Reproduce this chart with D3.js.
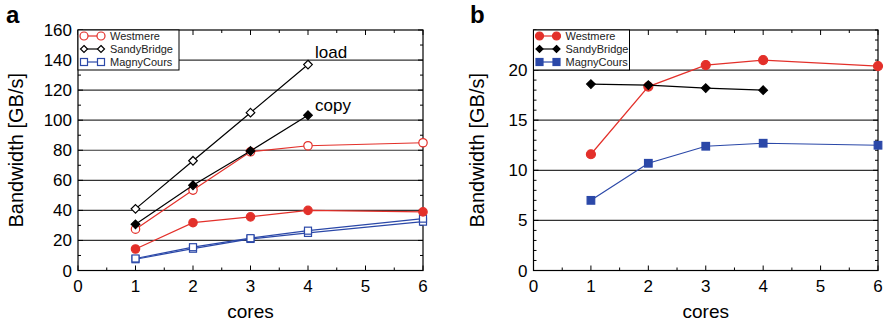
<!DOCTYPE html>
<html>
<head>
<meta charset="utf-8">
<script src="https://cdn.jsdelivr.net/npm/d3@7"></script>
<style>
  body { margin: 0; background: #fff; }
  svg { font-family: "Liberation Sans", Arial, sans-serif; }
</style>
</head>
<body>
<div id="container"></div>
<script>
var cores = [1, 2, 3, 4, 6];
var coresSandy = [1, 2, 3, 4];

// panel a: load (open) and copy (filled)
var westLoad = [27.5, 53.5, 79, 83, 85];
var westCopy = [14.3, 31.8, 35.7, 40, 39];
var sandyLoad = [41, 73, 105, 137];
var sandyCopy = [30.7, 56.7, 79.5, 103.3];
var magnyLoad = [8, 15.5, 21.5, 26.5, 34.5];
var magnyCopy = [7.5, 14.5, 21, 25, 32.5];

// panel b
var westB = [11.6, 18.35, 20.5, 21.0, 20.4];
var sandyB = [18.6, 18.5, 18.2, 18.0];
var magnyB = [7.0, 10.7, 12.4, 12.7, 12.5];

var xTicks = [0, 1, 2, 3, 4, 5, 6];
var yTicksA = [0, 20, 40, 60, 80, 100, 120, 140, 160];
var yTicksB = [0, 5, 10, 15, 20];
var legendNames = ["Westmere", "SandyBridge", "MagnyCours"];

var red = "#e3302a", black = "#000", blue = "#2b48a8";

var svg = d3.select("#container").append("svg")
    .attr("width", 886).attr("height", 326);

function panel(opt) {
    var g = svg.append("g");
    var x = d3.scaleLinear().domain([0, 6]).range([opt.left, opt.right]);
    var y = d3.scaleLinear().domain([0, opt.ymax]).range([opt.bottom, opt.top]);

    // grid
    g.selectAll("line.grid").data(opt.grid).enter().append("line")
        .attr("x1", opt.left).attr("x2", opt.right)
        .attr("y1", d => y(d)).attr("y2", d => y(d))
        .attr("stroke", "#333").attr("stroke-width", 1.2);

    // minor/major ticks inside on all four sides
    d3.range(0, 6.01, 0.5).forEach(v => {
        var len = (v % 1 === 0) ? 5 : 3;
        g.append("line").attr("x1", x(v)).attr("x2", x(v))
            .attr("y1", opt.bottom).attr("y2", opt.bottom - len).attr("stroke", "#000");
        g.append("line").attr("x1", x(v)).attr("x2", x(v))
            .attr("y1", opt.top).attr("y2", opt.top + len).attr("stroke", "#000");
    });
    d3.range(0, opt.ymax + 0.01, opt.minor).forEach(v => {
        var len = (Math.abs(v % opt.major) < 1e-6) ? 5 : 3;
        g.append("line").attr("x1", opt.left).attr("x2", opt.left + len)
            .attr("y1", y(v)).attr("y2", y(v)).attr("stroke", "#000");
        g.append("line").attr("x1", opt.right).attr("x2", opt.right - len)
            .attr("y1", y(v)).attr("y2", y(v)).attr("stroke", "#000");
    });

    // frame
    g.append("rect").attr("x", opt.left).attr("y", opt.top)
        .attr("width", opt.right - opt.left).attr("height", opt.bottom - opt.top)
        .attr("fill", "none").attr("stroke", "#000").attr("stroke-width", 1.2);

    // tick labels
    g.selectAll("text.xt").data(xTicks).enter().append("text")
        .attr("x", d => x(d)).attr("y", opt.bottom + 21)
        .attr("text-anchor", "middle").attr("font-size", 17).text(d => d);
    g.selectAll("text.yt").data(opt.yTicks).enter().append("text")
        .attr("x", opt.left - 6).attr("y", d => y(d) + 6)
        .attr("text-anchor", "end").attr("font-size", 17).text(d => d);

    g.append("text").attr("x", (opt.left + opt.right) / 2).attr("y", 318)
        .attr("text-anchor", "middle").attr("font-size", 19).text("cores");
    var ym = (opt.top + opt.bottom) / 2;
    g.append("text").attr("transform", `translate(${opt.titleX},${ym}) rotate(-90)`)
        .attr("text-anchor", "middle").attr("font-size", 20).text("Bandwidth [GB/s]");
    g.append("text").attr("x", opt.letterX).attr("y", 23)
        .attr("font-size", 24).attr("font-weight", "bold").text(opt.letter);

    return { g: g, x: x, y: y };
}

function drawMarker(g, shape, cx, cy, color, filled, s) {
    var fill = filled ? color : "#fff";
    if (shape === "circle") {
        g.append("circle").attr("cx", cx).attr("cy", cy).attr("r", s)
            .attr("fill", fill).attr("stroke", color).attr("stroke-width", 1.2);
    } else if (shape === "diamond") {
        g.append("path").attr("d", `M${cx},${cy - s}L${cx + s},${cy}L${cx},${cy + s}L${cx - s},${cy}Z`)
            .attr("fill", fill).attr("stroke", color).attr("stroke-width", 1.2);
    } else {
        g.append("rect").attr("x", cx - s).attr("y", cy - s)
            .attr("width", 2 * s).attr("height", 2 * s)
            .attr("fill", fill).attr("stroke", color).attr("stroke-width", 1.2);
    }
}

function series(p, xs, vals, color, shape, filled, s) {
    var line = d3.line().x((d, i) => p.x(xs[i])).y(d => p.y(d));
    p.g.append("path").datum(vals).attr("d", line)
        .attr("fill", "none").attr("stroke", color).attr("stroke-width", 1.2);
    vals.forEach((v, i) => drawMarker(p.g, shape, p.x(xs[i]), p.y(v), color, filled, s));
}

function legend(p, left, width, filled, sizes) {
    var top = 30, h = 40;
    p.g.append("rect").attr("x", left).attr("y", top).attr("width", width).attr("height", h)
        .attr("fill", "#fff").attr("stroke", "#000").attr("stroke-width", 1);
    var colors = [red, black, blue], shapes = ["circle", "diamond", "square"];
    legendNames.forEach((n, i) => {
        var yy = top + 6 + i * 13;
        p.g.append("line").attr("x1", left + 6).attr("x2", left + 23)
            .attr("y1", yy).attr("y2", yy).attr("stroke", colors[i]).attr("stroke-width", 1.2);
        drawMarker(p.g, shapes[i], left + 6, yy, colors[i], filled, sizes[i]);
        drawMarker(p.g, shapes[i], left + 23, yy, colors[i], filled, sizes[i]);
        p.g.append("text").attr("x", left + 32).attr("y", yy + 4)
            .attr("font-size", 11).attr("fill", "#222").text(n);
    });
}

// panel a
var pa = panel({ left: 78, right: 423, top: 30, bottom: 270.5, ymax: 160,
    grid: [20, 40, 60, 80, 100, 120, 140], minor: 10, major: 20, yTicks: yTicksA,
    titleX: 23, letterX: 6, letter: "a" });
series(pa, cores, magnyCopy, blue, "square", false, 3.5);
series(pa, cores, magnyLoad, blue, "square", false, 3.5);
series(pa, cores, westCopy, red, "circle", true, 4.2);
series(pa, cores, westLoad, red, "circle", false, 4.2);
series(pa, coresSandy, sandyCopy, black, "diamond", true, 4.3);
series(pa, coresSandy, sandyLoad, black, "diamond", false, 4.3);
pa.g.append("text").attr("x", pa.x(4) + 7).attr("y", pa.y(sandyLoad[3]) - 7)
    .attr("font-size", 17).text("load");
pa.g.append("text").attr("x", pa.x(4) + 7).attr("y", pa.y(sandyCopy[3]) - 4)
    .attr("font-size", 17).text("copy");
legend(pa, 78, 101, false, [4, 3.5, 3.5]);

// panel b
var pb = panel({ left: 533.5, right: 878, top: 30, bottom: 270.5, ymax: 24,
    grid: [5, 10, 15, 20], minor: 1, major: 5, yTicks: yTicksB,
    titleX: 484, letterX: 470, letter: "b" });
series(pb, cores, westB, red, "circle", true, 4.5);
series(pb, coresSandy, sandyB, black, "diamond", true, 4.3);
series(pb, cores, magnyB, blue, "square", true, 3.8);
legend(pb, 533.5, 96, true, [4, 3.5, 3.5]);
</script>
</body>
</html>
